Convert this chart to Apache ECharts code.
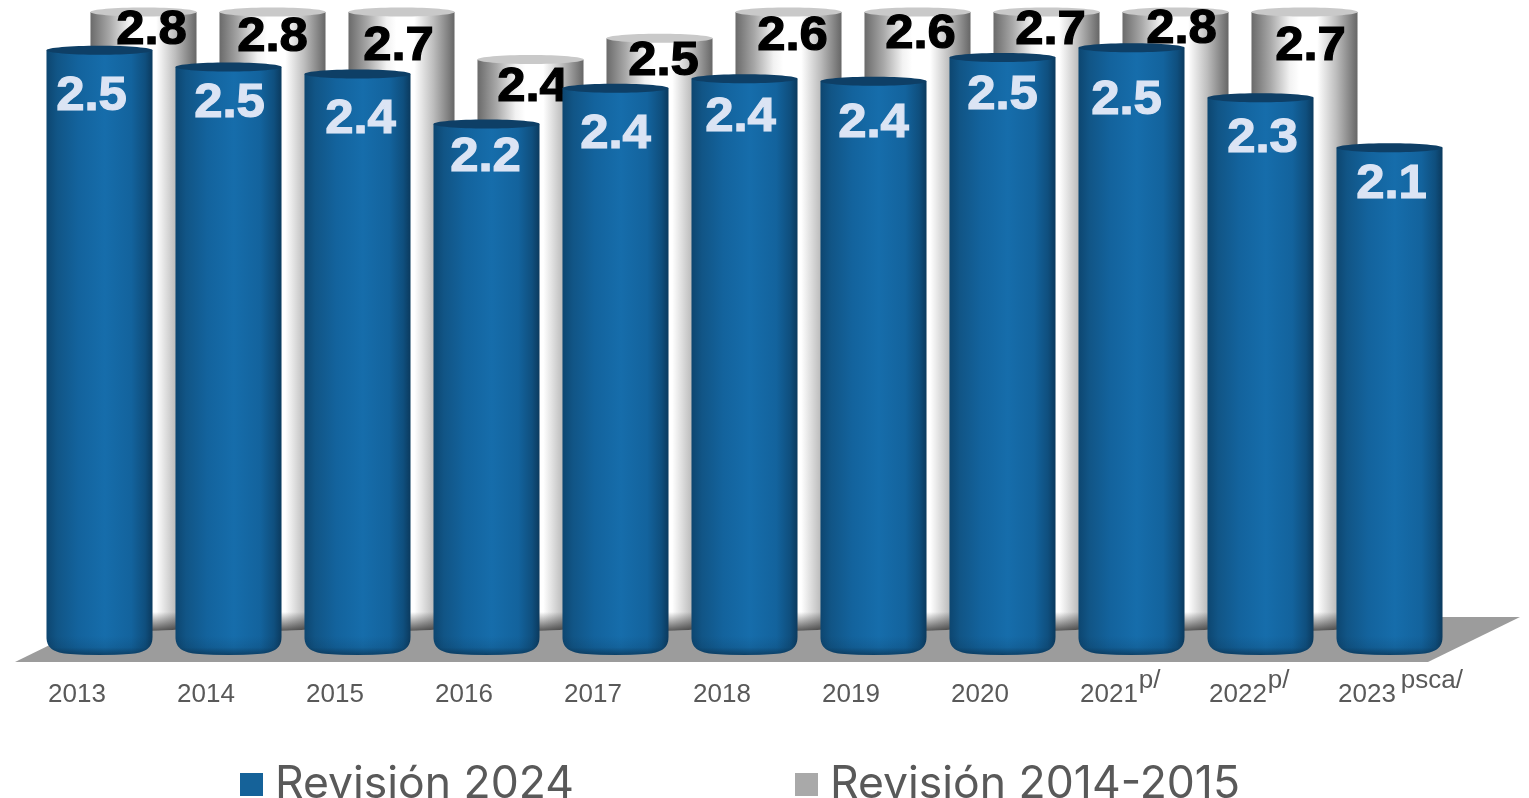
<!DOCTYPE html>
<html><head><meta charset="utf-8">
<style>html,body{margin:0;padding:0;background:#fff}#c{width:1529px;height:798px}</style>
<script src="https://cdn.jsdelivr.net/npm/echarts@6/dist/echarts.min.js"></script>
</head><body><div id="c"></div>
<script>
const years = ['2013','2014','2015','2016','2017','2018','2019','2020','2021','2022','2023'];
const yearMarks = ['','','','','','','','','p/','p/','psca/'];
const revision2024 = [2.52,2.45,2.42,2.21,2.36,2.40,2.39,2.49,2.53,2.32,2.11];
const revision2014 = [2.8,2.8,2.7,2.38,2.47,2.6,2.6,2.7,2.8,2.7];
// hand-placed label nudges of the source picture
const frontNudgeX = [-8,1,3,-1,0,-4,0,0,-5,2,2];
const frontNudgeY = [47,37,46,34,46,39,43,38,53,41,37];
const backNudgeX = [8,0,-3,2,4,4,3,4,6,6];
const backNudgeY = [19,26,35,28,24,25,23,19,18,35];

const BLUE_MAX = 2.7, GREY_MAX = 2.58, SCALE = 238;
const blueBody = new echarts.graphic.LinearGradient(0,0,1,0,[
  {offset:0,color:'#0d4670'},{offset:.1,color:'#115586'},{offset:.3,color:'#13639d'},
  {offset:.55,color:'#166dab'},{offset:.8,color:'#13639d'},{offset:.93,color:'#0f4f7e'},{offset:1,color:'#0b3a5e'}]);
const greyBody = new echarts.graphic.LinearGradient(0,0,1,0,[
  {offset:0,color:'#6a6a6a'},{offset:.18,color:'#a8a8a8'},{offset:.36,color:'#f2f2f2'},{offset:.45,color:'#ffffff'},
  {offset:.62,color:'#ffffff'},{offset:.8,color:'#bdbdbd'},{offset:1,color:'#666666'}]);
const shade = new echarts.graphic.LinearGradient(0,0,0,1,[
  {offset:0,color:'rgba(5,30,50,0)'},{offset:.6,color:'rgba(5,30,50,.12)'},{offset:1,color:'rgba(5,30,50,.55)'}]);
const greyShade = new echarts.graphic.LinearGradient(0,0,0,1,[
  {offset:0,color:'rgba(30,30,30,0)'},{offset:1,color:'rgba(30,30,30,.75)'}]);

// side walls + a rounded foot, in pixel space derived from the axis coordinates
function wallPath(l, r, t, b){
  const cx = (l+r)/2, foot = b + 5;
  return `M${l} ${t}L${r} ${t}L${r} ${foot-18}C${r} ${foot-5} ${r-10} ${foot-2} ${r-24} ${foot-1}`
       + `Q${cx} ${foot+1} ${l+24} ${foot-1}C${l+10} ${foot-2} ${l} ${foot-5} ${l} ${foot-18}Z`;
}

function cylinder(cfg){
  return function(params, api){
    const i = api.value(0), v = api.value(1);
    const top = api.coord([i, Math.min(v, cfg.max)]);
    const base = api.coord([i, 0]);
    const w = api.size([1,0])[0] * 0.822;
    const l = top[0] - w/2, r = top[0] + w/2;
    const foot = base[1] + 5;
    const footTop = base[1] - 14;
    return {type:'group', children:[
      {type:'path', shape:{pathData:wallPath(l,r,top[1],base[1]), layout:'cover', x:l, y:top[1], width:w, height:foot-top[1]}, style:{fill:cfg.body}},
      {type:'path', shape:{pathData:wallPath(l,r,footTop,base[1]), layout:'cover', x:l, y:footTop, width:w, height:foot-footTop}, style:{fill:cfg.shade}},
      {type:'ellipse', shape:{cx:top[0],cy:top[1],rx:w/2,ry:4.5}, style:{fill:cfg.cap}},
      {type:'text', x:top[0]+cfg.nx[params.dataIndex], y:top[1]+cfg.ny[params.dataIndex], scaleX:1.06,
        style:{text:v.toFixed(1), fill:cfg.label, stroke:cfg.label, lineWidth:1.2,
               font:'bold 48px "Liberation Sans"', align:'center', verticalAlign:'middle'}}
    ]};
  };
}

const chart = echarts.init(document.getElementById('c'), null, {renderer:'canvas'});
const hiddenY = (idx, max) => ({type:'value', gridIndex:idx, min:0, max:max, show:false});
const hiddenX = idx => ({type:'category', gridIndex:idx, data:years, show:false});
const tickFont = {fontFamily:'Liberation Sans', fontSize:26, color:'#595959', lineHeight:30, verticalAlign:'bottom'};
chart.setOption({
  animation:false,
  backgroundColor:'#ffffff',
  graphic:[{type:'polygon', z:0, silent:true,
    shape:{points:[[15,662],[1428,662],[1520,617],[107,617]]}, style:{fill:'#9c9c9c'}}],
  legend:{
    left:235, top:757, itemWidth:23, itemHeight:23, itemGap:221, icon:'rect',
    data:['Revisión 2024','Revisión 2014-2015'],
    selectedMode:false,
    textStyle:{fontFamily:'Inter', fontSize:44.5, color:'#595959', padding:[0,0,0,7]}
  },
  grid:[
    {left:35, width:129*11, top:650-BLUE_MAX*SCALE, height:BLUE_MAX*SCALE},
    {left:79, width:129*11, top:626-GREY_MAX*SCALE, height:GREY_MAX*SCALE},
    {left:48, width:129*10, top:660, height:10}
  ],
  xAxis:[hiddenX(0), hiddenX(1), {
    type:'category', gridIndex:2, data:years, boundaryGap:false,
    axisLine:{show:false}, axisTick:{show:false},
    axisLabel:{
      interval:0, align:'left', margin:8, hideOverlap:false, showMinLabel:true, showMaxLabel:true,
      formatter:(val, i)=> !yearMarks[i] ? `{y|${val}}` : `{y|${val}}{${yearMarks[i].length>2?'w':'s'}|${yearMarks[i]}}`,
      rich:{
        y:tickFont,
        s:{...tickFont, padding:[0,0,14,1]},
        w:{...tickFont, padding:[0,0,14,5]}
      }
    }
  }],
  yAxis:[hiddenY(0,BLUE_MAX), hiddenY(1,GREY_MAX), hiddenY(2,1)],
  series:[
    {name:'Revisión 2014-2015', type:'custom', xAxisIndex:1, yAxisIndex:1, z:2, clip:false,
     itemStyle:{color:'#a9a9a9'}, encode:{x:0,y:1},
     data:revision2014.map((v,i)=>[i,v]),
     renderItem:cylinder({max:GREY_MAX, body:greyBody, shade:greyShade, cap:'#c9c9c9', label:'#000000', nx:backNudgeX, ny:backNudgeY})},
    {name:'Revisión 2024', type:'custom', xAxisIndex:0, yAxisIndex:0, z:3, clip:false,
     itemStyle:{color:'#156299'}, encode:{x:0,y:1},
     data:revision2024.map((v,i)=>[i,v]),
     renderItem:cylinder({max:BLUE_MAX, body:blueBody, shade:shade, cap:'#0e3f66', label:'#dbe4f4', nx:frontNudgeX, ny:frontNudgeY})}
  ]
});
</script></body></html>
